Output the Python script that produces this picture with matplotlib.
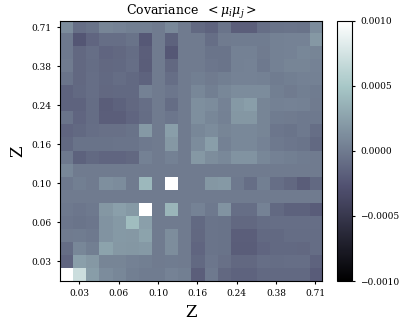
import numpy as np
import matplotlib
matplotlib.use("Agg")
import matplotlib.pyplot as plt

plt.rcParams["font.family"] = "DejaVu Serif"
plt.rcParams["mathtext.fontset"] = "dejavuserif"

# redshift bin labels shown on both axes (every third bin)
tick_idx = [1, 4, 7, 10, 13, 16, 19]
z_labels = ['0.03', '0.06', '0.10', '0.16', '0.24', '0.38', '0.71']

# covariance values in units of 1e-4, rows listed from top (highest z) to bottom
cov_top = [
    [ 1.1, -0.8, -0.5,  0.7,  0.5,  0.3,  0.3,  0.0,  0.9,  0.0, -1.1, -1.5, -0.4, -1.8, -1.8, -0.8, -0.5, -0.4, -0.5,  1.1],
    [-0.1, -2.4, -1.4, -0.8, -0.8, -0.5, -2.2,  0.0, -1.6,  0.0,  0.0, -0.8,  0.0,  0.1,  0.1,  0.1,  0.4,  0.5,  0.5,  1.9],
    [-0.1, -1.2, -0.8, -1.4, -1.2, -0.9, -1.8,  0.0, -2.3,  0.0,  0.0, -0.4, -0.4,  0.4,  0.4,  0.0,  0.4,  0.5,  0.8,  0.7],
    [ 0.0, -1.2, -0.9, -1.2, -1.1, -0.8, -1.9,  0.0, -1.2,  0.0,  0.0, -0.3, -0.4,  0.4,  0.5, -0.1,  0.4,  0.7,  0.7,  0.5],
    [-0.4, -1.2, -0.8, -1.1, -0.9, -1.1, -1.5,  0.0, -0.8,  0.0,  0.3,  0.0,  0.3,  0.5,  0.5,  0.4,  0.1,  0.3,  0.4,  0.4],
    [-1.5, -1.1, -0.8, -1.2, -1.1, -1.1,  0.4,  0.0, -0.3,  0.0,  0.8,  0.3,  0.8,  1.1,  1.1,  1.1,  0.3,  0.0,  0.3,  0.1],
    [-1.5, -1.5, -0.9, -1.9, -1.6, -1.2, -0.8,  0.0, -0.9,  0.0,  1.4,  1.1,  0.5,  2.0,  2.3,  0.7,  0.4,  0.5,  0.4,  0.0],
    [-0.4, -1.4, -0.9, -1.8, -1.8, -1.4, -0.9,  0.0, -0.3,  0.0,  1.4,  0.8,  0.4,  1.8,  1.8,  0.7,  0.1,  0.0, -0.1, -0.1],
    [-1.4, -1.1, -0.8, -0.7, -0.7, -0.5,  2.0,  0.0,  2.3,  0.0,  0.8,  1.1,  0.7,  0.9,  0.9,  0.7, -0.3, -0.4, -0.1, -0.8],
    [-1.1, -0.5, -0.5, -0.5, -0.4, -0.4, -0.1,  0.0,  1.9,  0.0,  1.1,  2.3,  0.4,  0.9,  0.9,  0.5, -0.1, -0.3, -0.4, -1.1],
]
cov_bottom = [
    [-0.1, -1.6, -1.1, -1.4, -1.4, -1.2,  0.4,  0.0,  0.4,  0.0,  1.9,  1.2,  0.9,  1.6,  1.6,  0.8,  0.4,  0.3,  0.1,  0.0],
    [ 0.8,  0.0,  0.0,  0.0,  0.0,  0.0,  0.0,  0.0,  0.0,  0.0,  0.0,  0.0,  0.0,  0.0,  0.0,  0.0,  0.0,  0.0,  0.0,  0.0],
    [-0.1,  0.3,  0.0,  1.4,  1.1,  0.0,  4.0,  0.0, 10.0,  0.0,  0.0,  1.8,  2.0, -0.1, -0.8,  0.3, -0.8, -1.2, -1.9, -1.1],
    [ 0.0,  0.0,  0.0,  0.0,  0.0,  0.0,  0.0,  0.0,  0.0,  0.0,  0.0,  0.0,  0.0,  0.0,  0.0,  0.0,  0.0,  0.0,  0.0,  0.0],
    [-0.1, -0.3, -0.1,  1.8,  2.4,  2.0, 10.0,  0.0,  3.8,  0.0,  0.5, -0.1,  1.6, -0.8, -0.8,  0.5, -1.1, -1.6, -1.6, -2.0],
    [-0.3, -0.4, -0.3,  1.6,  2.0,  4.3,  2.4,  0.0,  0.0,  0.0, -1.1, -0.4, -0.5, -1.2, -1.2, -0.9, -0.8, -0.8, -0.8, -0.8],
    [ 0.0,  0.1, -0.1,  1.6,  2.0,  1.9,  2.6,  0.0,  1.2,  0.0, -1.2, -0.4, -0.5, -1.8, -1.8, -1.1, -1.1, -0.9, -0.9, -0.9],
    [-0.9,  0.8,  0.3,  2.6,  1.9,  1.8,  2.0,  0.0,  1.2,  0.0, -1.4, -0.4, -0.5, -1.9, -1.9, -1.4, -1.1, -1.1, -1.2, -0.9],
    [-1.4,  2.4,  1.9,  0.7,  0.7,  0.4,  0.3,  0.0,  0.1,  0.0, -1.1, -0.3, -0.7, -1.2, -1.2, -0.8, -0.9, -0.8, -0.8, -1.5],
    [10.0,  7.0,  2.2,  1.1,  0.8,  0.3,  0.1,  0.1,  0.5,  0.3, -1.8, -0.1, -1.2, -1.5, -1.5, -1.1, -1.1, -1.1, -1.1, -2.0],
]

cov = np.array(cov_top + cov_bottom)[::-1] * 1e-4

fig = plt.figure(figsize=(4.07, 3.26), dpi=100)
ax = fig.add_axes([0.147, 0.138, 0.644, 0.799])
cax = fig.add_axes([0.829, 0.138, 0.035, 0.799])

im = ax.imshow(cov, cmap='bone', vmin=-0.001, vmax=0.001, origin='lower',
               interpolation='nearest', aspect='auto')
ax.set_xticks(tick_idx)
ax.set_xticklabels(z_labels)
ax.set_yticks(tick_idx)
ax.set_yticklabels(z_labels)
ax.tick_params(labelsize=6.5, length=2.5)
ax.set_xlabel('Z', fontsize=12)
ax.set_ylabel('Z', fontsize=12)
ax.set_title(r'Covariance  $<\mu_i\mu_j>$', fontsize=9, pad=3)

cb = fig.colorbar(im, cax=cax, ticks=[-0.001, -0.0005, 0, 0.0005, 0.001])
cb.ax.tick_params(labelsize=6.5, length=2.5)

plt.savefig('out.png', dpi=100)
